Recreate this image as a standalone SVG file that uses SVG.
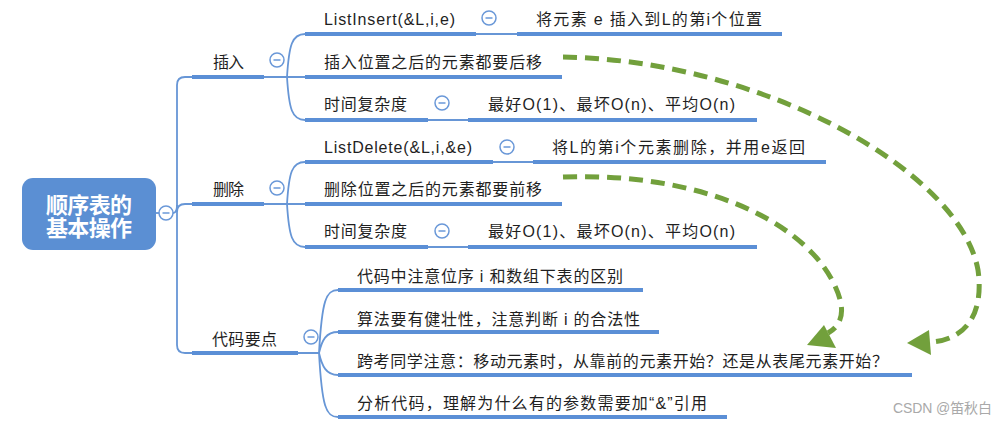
<svg xmlns="http://www.w3.org/2000/svg" width="1006" height="423" viewBox="0 0 1006 423">
<style>
text{font-family:"Liberation Sans","Noto Sans CJK SC",sans-serif;font-size:16px;fill:#1f1f1f}
.root{font-size:22px;font-weight:bold;fill:#fff}
.ul{stroke:#5b8fd6;stroke-width:4;fill:none}
.thin{stroke:#6796d6;stroke-width:1.8;fill:none}
.col circle{fill:#fff;stroke:#6a98d8;stroke-width:1.5}
.col line{stroke:#6a98d8;stroke-width:1.5}
.dash{stroke:#72a03c;stroke-width:5;fill:none;stroke-dasharray:14 8}
.head{fill:#72a03c}
.wm{font-size:14px;fill:#a9a9a9}
</style>
<defs>
<g id="minus" class="col"><circle r="7"/><line x1="-3.5" y1="0" x2="3.5" y2="0"/></g>
</defs>
<rect width="1006" height="423" fill="#fff"/>

<g id="connectors">
<path class="thin" d="M156 213 H160"/>
<path class="thin" d="M173 213 Q177 213 177 205"/>
<path class="thin" d="M192 77 H185 Q177 77 177 85 V345 Q177 353 185 353 H192"/>
<path class="thin" d="M177 212 Q177 204 185 204 H192"/>
<path class="thin" d="M264 77 H305 M287 77 C289 45 292 34 305 34 M287 77 C289 109 292 120 305 120"/>
<path class="thin" d="M264 204 H305 M287 204 C289 172 292 162 305 162 M287 204 C289 236 292 247 305 247"/>
<path class="thin" d="M298 353 H319 M319 353 C322 300 326 290 338 290 M319 353 C322 340 326 332 338 332 M319 353 C322 366 326 375 338 375 M319 353 C322 407 326 417 338 417"/>
<path class="thin" d="M476 34 H517 M428 120 H468 M493 162 H533 M428 247 H468"/>
<path class="dash" d="M563 57 C760 60 960 170 978 270 C985 320 960 340 932 342"/>
<polygon class="head" points="907,343 929,330 931,355"/>
<path class="dash" d="M563 177 C700 172 800 220 832 280 C848 310 842 325 828 333"/>
<polygon class="head" points="807,345 824,325 836,348"/>
</g>

<g id="root">
<rect x="22" y="178" width="134" height="72" rx="11" fill="#5b8fd3"/>
<text class="root" x="89" y="213" text-anchor="middle" textLength="86">顺序表的</text>
<text class="root" x="89" y="236" text-anchor="middle" textLength="86">基本操作</text>
<use href="#minus" x="166" y="213"/>
</g>

<g id="insert">
<text x="213" y="68" textLength="31">插入</text>
<path class="ul" d="M192 77 H264"/>
<use href="#minus" x="277" y="60"/>
</g>
<g id="listinsert">
<text x="324" y="25" textLength="131">ListInsert(&amp;L,i,e)</text>
<path class="ul" d="M305 34 H476"/>
<use href="#minus" x="489" y="18"/>
</g>
<g id="listinsert-desc">
<text x="536" y="25" textLength="226">将元素 e 插入到L的第i个位置</text>
<path class="ul" d="M517 34 H782"/>
</g>
<g id="insert-move">
<text x="324" y="68" textLength="218">插入位置之后的元素都要后移</text>
<path class="ul" d="M305 77 H562"/>
</g>
<g id="insert-time">
<text x="324" y="110" textLength="83">时间复杂度</text>
<path class="ul" d="M305 120 H428"/>
<use href="#minus" x="442" y="103"/>
</g>
<g id="insert-time-val">
<text x="488" y="110" textLength="247">最好O(1)、最坏O(n)、平均O(n)</text>
<path class="ul" d="M468 120 H757"/>
</g>

<g id="delete">
<text x="213" y="195" textLength="31">删除</text>
<path class="ul" d="M192 204 H264"/>
<use href="#minus" x="277" y="188"/>
</g>
<g id="listdelete">
<text x="324" y="153" textLength="148">ListDelete(&amp;L,i,&amp;e)</text>
<path class="ul" d="M305 162 H493"/>
<use href="#minus" x="507" y="147"/>
</g>
<g id="listdelete-desc">
<text x="552" y="153" textLength="253">将L的第i个元素删除，并用e返回</text>
<path class="ul" d="M533 162 H826"/>
</g>
<g id="delete-move">
<text x="324" y="195" textLength="218">删除位置之后的元素都要前移</text>
<path class="ul" d="M305 204 H562"/>
</g>
<g id="delete-time">
<text x="324" y="237" textLength="83">时间复杂度</text>
<path class="ul" d="M305 247 H428"/>
<use href="#minus" x="442" y="231"/>
</g>
<g id="delete-time-val">
<text x="488" y="237" textLength="247">最好O(1)、最坏O(n)、平均O(n)</text>
<path class="ul" d="M468 247 H757"/>
</g>

<g id="code">
<text x="212" y="345" textLength="65">代码要点</text>
<path class="ul" d="M192 353 H298"/>
<use href="#minus" x="311" y="337"/>
</g>
<g id="code-1">
<text x="357" y="282" textLength="266">代码中注意位序 i 和数组下表的区别</text>
<path class="ul" d="M338 290 H643"/>
</g>
<g id="code-2">
<text x="357" y="325" textLength="283">算法要有健壮性，注意判断 i 的合法性</text>
<path class="ul" d="M338 332 H659"/>
</g>
<g id="code-3">
<text x="357" y="367" textLength="531">跨考同学注意：移动元素时，从靠前的元素开始？还是从表尾元素开始？</text>
<path class="ul" d="M338 375 H912"/>
</g>
<g id="code-4">
<text x="357" y="409" textLength="350">分析代码，理解为什么有的参数需要加“&amp;”引用</text>
<path class="ul" d="M338 417 H727"/>
</g>

<text class="wm" x="893" y="413" textLength="99">CSDN @笛秋白</text>
</svg>
